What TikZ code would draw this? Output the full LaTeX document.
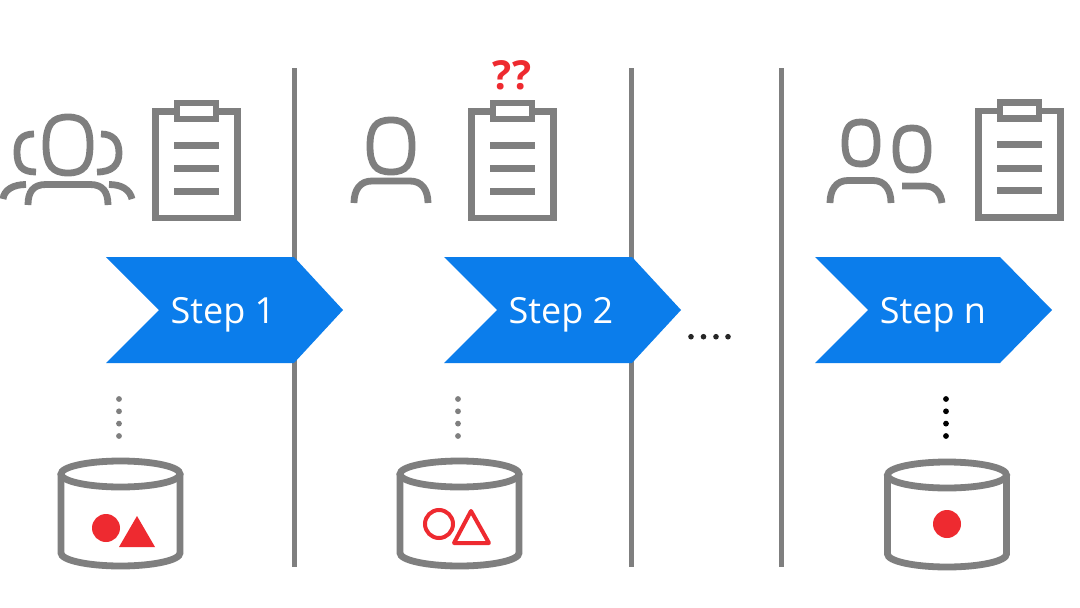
\documentclass[tikz,border=0pt]{standalone}
\usepackage{fontspec}
\setmainfont{Open Sans}
\definecolor{gr}{HTML}{7F7F7F}
\definecolor{bl}{HTML}{0B7DEB}
\definecolor{rd}{HTML}{EE2A30}
\tikzset{
  icon/.style={draw=gr,line width=6.8pt},
  bar/.style={fill=gr},
  sepline/.style={draw=gr,line width=5pt},
  chev/.style={fill=bl,draw=none},
  lab/.style={text=white,font=\fontsize{36}{36}\selectfont,inner sep=0pt},
  qq/.style={text=rd,font=\fontsize{40}{40}\selectfont\bfseries,inner sep=0pt},
  pics/clipboard/.style={code={
    \draw[icon,line join=miter] (-19.5,-92.5) -- (-41,-92.5) -- (-41,14) -- (41,14) -- (41,-92.5) -- (19.5,-92.5);
    \draw[icon,line join=miter] (-19.5,-101) rectangle (19.5,-85);
    \fill[bar] (-22.5,-62.5) rectangle (22.5,-55.5);
    \fill[bar] (-22.5,-39) rectangle (22.5,-32);
    \fill[bar] (-22.5,-16.5) rectangle (22.5,-9.5);
  }},
  pics/cyl/.style={code={
    \draw[icon] (0,0) circle [x radius=59.5,y radius=13];
    \draw[icon] (-59.5,0) -- (-59.5,79) arc[start angle=180,end angle=0,x radius=59.5,y radius=13] -- (59.5,0);
  }},
  pics/chevron/.style={code={
    \fill[chev] (0,0) -- (#1,0) -- (237,53) -- (#1,106) -- (0,106) -- (53,53) -- cycle;
  }},
  pics/dots/.style={code={
    \foreach \yy in {0,12.3,24.6,37} \fill[#1] (0,\yy) circle (2.9);
  }},
}
\newcommand{\headshape}[4]{% cx cy rx ry
  \draw[icon,shift={(#1,#2)},x=#3pt,y=#4pt]
    (0,-1) .. controls (0.72,-1) and (1,-0.72) .. (1,0)
    .. controls (1,0.72) and (0.72,1) .. (0,1)
    .. controls (-0.72,1) and (-1,0.72) .. (-1,0)
    .. controls (-1,-0.72) and (-0.72,-1) .. (0,-1) -- cycle;
}
\begin{document}
\begin{tikzpicture}[x=1pt,y=-1pt]
\useasboundingbox (0,0) rectangle (1080,608);
\fill[white] (0,0) rectangle (1080,608);
% separators
\draw[sepline] (294,68) -- (294,567);
\draw[sepline] (631,68) -- (631,567);
\draw[sepline] (781,68) -- (781,567);
% clipboards
\pic at (196.5,204) {clipboard};
\pic at (512.5,204) {clipboard};
\pic at (1019.5,203.5) {clipboard};
% group of three
\headshape{68}{145}{22}{28}
\draw[icon] (34,134) .. controls (22,134) and (17,140) .. (17,152) .. controls (17,166) and (22,172) .. (36,172);
\draw[icon] (101,134) .. controls (113,134) and (119,141) .. (119,153) .. controls (119,165) and (112,172) .. (97,172);
\draw[icon] (28,205) .. controls (28,192) and (33,184.5) .. (46,184.5) -- (90,184.5) .. controls (103,184.5) and (108,192) .. (108,205);
\draw[icon] (3,199) .. controls (4,190) and (13,184.5) .. (26,184.5);
\draw[icon] (109,184.5) .. controls (122,184.5) and (130,190) .. (132,199);
% single
\headshape{391}{146}{21}{26}
\draw[icon] (354,203) .. controls (354,190) and (360,181) .. (372,181) -- (410,181) .. controls (422,181) and (428,190) .. (428,203);
\node[qq] (qm) at (512,75) {??};
% pair
\headshape{861}{143}{16}{21}
\headshape{912}{149}{16}{21}
\draw[icon] (830,203) .. controls (830,190) and (836,180.5) .. (848,180.5) -- (873,180.5) .. controls (885,180.5) and (891,190) .. (891,203);
\draw[icon] (902,186) -- (925,186) .. controls (936,186) and (941,194) .. (942,203);
% chevrons
\pic at (106,257) {chevron=188};
\pic at (444,257) {chevron=188};
\pic at (815,257) {chevron=185};
\node[lab] (s1) at (223,315) {Step 1};
\node[lab] (s2) at (561,315) {Step 2};
\node[lab] (sn) at (933,315) {Step n};
% dots
\pic at (119,399) {dots=gr};
\pic at (458,399) {dots=gr};
\pic at (946,399) {dots=black};
\foreach \xx in {691,703.5,716,728} \fill[black!85] (\xx,336.7) circle (2.8);
% cylinders
\pic at (120.5,474) {cyl};
\pic at (459.5,474) {cyl};
\pic at (947,475) {cyl};
% red shapes
\fill[rd] (106,528) circle (14);
\fill[rd] (137,516) -- (155,547) -- (119,547) -- cycle;
\draw[rd,line width=4pt] (439,524) circle (14);
\draw[rd,line width=4pt,line join=round] (471,511) -- (489,543) -- (454,543) -- cycle;
\fill[rd] (947,524) circle (14);
\end{tikzpicture}
\end{document}
